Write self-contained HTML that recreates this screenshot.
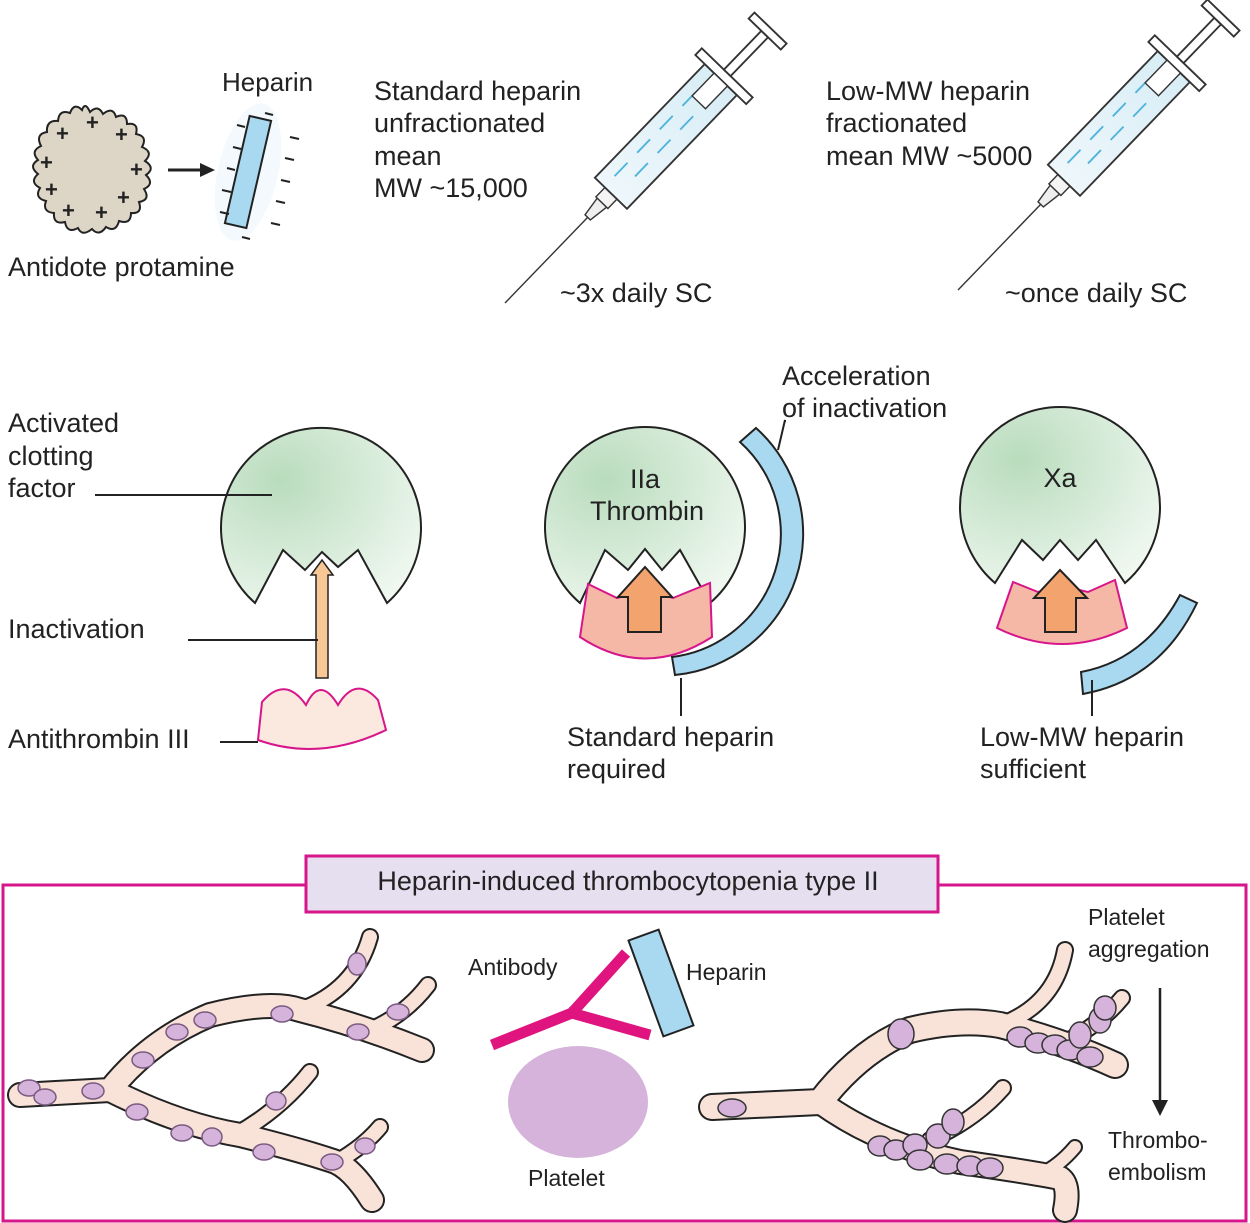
<!DOCTYPE html>
<html><head><meta charset="utf-8"><style>
html,body{margin:0;padding:0;background:#fff}
svg{display:block}
text{font-family:"Liberation Sans",sans-serif;fill:#222}
</style></head><body>
<svg width="1250" height="1223" viewBox="0 0 1250 1223" xmlns="http://www.w3.org/2000/svg">
<defs>
<radialGradient id="g1" cx="0.3" cy="0.3" r="0.9"><stop offset="0" stop-color="#b9dcbd"/><stop offset="1" stop-color="#f4faf4"/></radialGradient>
<linearGradient id="bar" x1="0" y1="0" x2="1" y2="0"><stop offset="0" stop-color="#eef7fb"/><stop offset="1" stop-color="#d8edf6"/></linearGradient>
<g id="syr">
 <line x1="0" y1="0" x2="130" y2="0" stroke="#333" stroke-width="1.5"/>
 <polygon points="128,-4 150,-7 150,7 128,4" fill="#eee" stroke="#333" stroke-width="1.5"/>
 <rect x="150" y="-9" width="14" height="18" fill="#f4f4f4" stroke="#333" stroke-width="1.5"/>
 <rect x="164" y="-24" width="170" height="48" fill="url(#bar)" stroke="#333" stroke-width="2"/>
 <g stroke="#4fb3dc" stroke-width="2">
  <line x1="180" y1="-10" x2="200" y2="-10"/><line x1="215" y1="-10" x2="235" y2="-10"/><line x1="250" y1="-10" x2="270" y2="-10"/><line x1="285" y1="-10" x2="305" y2="-10"/>
  <line x1="195" y1="6" x2="215" y2="6"/><line x1="230" y1="6" x2="250" y2="6"/><line x1="265" y1="6" x2="285" y2="6"/>
 </g>
 <rect x="334" y="-38" width="10" height="76" fill="#fff" stroke="#333" stroke-width="2"/>
 <rect x="300" y="-10" width="34" height="20" fill="#fff" stroke="#333" stroke-width="1.5"/>
 <rect x="344" y="-5" width="58" height="10" fill="#fff" stroke="#333" stroke-width="2"/>
 <rect x="402" y="-24" width="9" height="48" fill="#fff" stroke="#333" stroke-width="2"/>
</g>
</defs>

<!-- protamine -->
<path d="M90,112 Q98,104 103,114 Q113,106 116,117 Q127,112 127,124 Q139,122 136,134 Q148,136 142,147 Q154,152 145,161 Q156,168 146,175 Q155,184 144,189 Q151,200 139,202 Q143,214 131,213 Q131,225 119,221 Q116,233 106,227 Q99,237 92,229 Q82,237 78,228 Q67,234 65,222 Q53,225 54,213 Q42,212 46,201 Q34,198 40,188 Q29,182 38,174 Q28,166 38,160 Q30,151 41,146 Q35,134 47,132 Q46,120 58,121 Q59,109 70,113 Q74,102 82,110 Q85,101 90,112Z" fill="#ddd6c6" stroke="#222" stroke-width="2"/>
<g font-size="22" font-weight="bold">
<text x="86" y="130">+</text><text x="56" y="141">+</text><text x="115" y="142">+</text><text x="40" y="170">+</text><text x="130" y="177">+</text><text x="45" y="197">+</text><text x="117" y="205">+</text><text x="62" y="218">+</text><text x="95" y="220">+</text>
</g>
<line x1="168" y1="170" x2="203" y2="170" stroke="#222" stroke-width="3"/>
<polygon points="200,163 215,170 200,177" fill="#222"/>
<ellipse cx="248" cy="172" rx="30" ry="70" fill="#f3f9fd" transform="rotate(13 248 172)"/>
<rect x="237" y="117" width="22" height="110" fill="#a8d9f0" stroke="#222" stroke-width="2" transform="rotate(13 248 172)"/>
<g stroke="#222" stroke-width="2">
<line x1="265" y1="113" x2="273" y2="115"/><line x1="237" y1="125" x2="245" y2="127"/><line x1="290" y1="137" x2="299" y2="139"/><line x1="233" y1="147" x2="241" y2="149"/><line x1="285" y1="158" x2="294" y2="160"/><line x1="227" y1="168" x2="235" y2="170"/><line x1="281" y1="180" x2="290" y2="182"/><line x1="222" y1="190" x2="231" y2="192"/><line x1="276" y1="201" x2="285" y2="203"/><line x1="220" y1="212" x2="229" y2="214"/><line x1="271" y1="223" x2="280" y2="225"/><line x1="242" y1="237" x2="250" y2="239"/>
</g>
<text x="222" y="91" font-size="26">Heparin</text>
<text x="8" y="276" font-size="27">Antidote protamine</text>

<!-- syringes -->
<g font-size="27">
<text x="374" y="100">Standard heparin</text><text x="374" y="132">unfractionated</text><text x="374" y="165">mean</text><text x="374" y="197">MW ~15,000</text>
<text x="826" y="100">Low-MW heparin</text><text x="826" y="132">fractionated</text><text x="826" y="165">mean MW ~5000</text>
<text x="560" y="302">~3x daily SC</text><text x="1005" y="302">~once daily SC</text>
</g>
<use href="#syr" transform="translate(505,303) rotate(-46) scale(0.93)"/>
<use href="#syr" transform="translate(958,290) rotate(-46) scale(0.93)"/>

<!-- middle left -->
<g font-size="27">
<text x="8" y="432">Activated</text><text x="8" y="465">clotting</text><text x="8" y="497">factor</text>
<text x="8" y="638">Inactivation</text>
<text x="8" y="748">Antithrombin III</text>
</g>
<path d="M255,603 A100,100 0 1 1 387,603 L358,550 L338,567 L322,552 L305,570 L283,550 Z" fill="url(#g1)" stroke="#222" stroke-width="2"/>
<line x1="95" y1="495" x2="272" y2="495" stroke="#222" stroke-width="2"/>
<polygon points="316,678 328,678 328,575 333,575 322,560 311,575 316,575" fill="#f7c895" stroke="#222" stroke-width="1.5"/>
<line x1="188" y1="640" x2="318" y2="640" stroke="#222" stroke-width="2"/>
<path d="M262,702 Q285,675 306,705 Q320,675 338,705 Q356,675 378,700 L386,730 Q320,762 258,740 Z" fill="#fbe8df" stroke="#d6168a" stroke-width="2"/>
<line x1="220" y1="742" x2="258" y2="742" stroke="#222" stroke-width="2"/>

<!-- middle centre -->
<path d="M580,603 A100,100 0 1 1 710,603 L680,550 L662,570 L645,549 L628,570 L605,550 Z" fill="url(#g1)" stroke="#222" stroke-width="2"/>
<text x="645" y="488" font-size="27" text-anchor="middle">IIa</text>
<text x="647" y="520" font-size="27" text-anchor="middle">Thrombin</text>
<path d="M588,584 L617,598 L645,590 L673,598 L710,583 L712,637 Q645,680 580,637 Z" fill="#f6b8a6" stroke="#d6168a" stroke-width="2"/>
<polygon points="628,632 661,632 661,597 672,597 645,567 618,597 628,597" fill="#f3a46e" stroke="#222" stroke-width="2"/>
<path d="M756,428 A142,142 0 0 1 675,675 L672,657 A124,124 0 0 0 740,442 Z" fill="#a8d9f0" stroke="#222" stroke-width="2"/>
<polyline points="778,450 785,420 785,422" fill="none" stroke="#222" stroke-width="2"/>
<line x1="681" y1="678" x2="681" y2="716" stroke="#222" stroke-width="2"/>
<g font-size="27">
<text x="782" y="385">Acceleration</text><text x="782" y="417">of inactivation</text>
<text x="567" y="746">Standard heparin</text><text x="567" y="778">required</text>
<text x="980" y="746">Low-MW heparin</text><text x="980" y="778">sufficient</text>
</g>

<!-- middle right -->
<path d="M995,583 A100,100 0 1 1 1125,583 L1096,540 L1078,560 L1060,540 L1043,560 L1022,540 Z" fill="url(#g1)" stroke="#222" stroke-width="2"/>
<text x="1060" y="487" font-size="27" text-anchor="middle">Xa</text>
<path d="M1013,582 L1038,592 L1062,586 L1088,592 L1115,580 L1127,628 Q1062,660 997,628 Z" fill="#f6b8a6" stroke="#d6168a" stroke-width="2"/>
<polygon points="1045,632 1076,632 1076,598 1087,598 1060,570 1034,598 1045,598" fill="#f3a46e" stroke="#222" stroke-width="2"/>
<path d="M1081,672 Q1145,660 1180,595 L1197,603 Q1160,680 1083,694 Z" fill="#a8d9f0" stroke="#222" stroke-width="2"/>
<line x1="1092" y1="680" x2="1092" y2="716" stroke="#222" stroke-width="2"/>

<!-- bottom box -->
<rect x="3" y="885" width="1243" height="336" fill="none" stroke="#d6168a" stroke-width="3"/>
<rect x="306" y="856" width="632" height="56" fill="#e6dff0" stroke="#d6168a" stroke-width="3"/>
<text x="628" y="890" font-size="27" text-anchor="middle">Heparin-induced thrombocytopenia type II</text>

<!-- left vessels -->
<g fill="none" stroke-linecap="round" stroke-linejoin="round">
<g stroke="#222">
<path d="M20,1095 L110,1090 Q150,1040 210,1015 Q270,1000 300,1010 Q360,1025 422,1050" stroke-width="26"/>
<path d="M300,1010 Q355,990 370,937" stroke-width="18"/>
<path d="M370,1030 Q405,1015 428,985" stroke-width="18"/>
<path d="M110,1090 Q180,1125 240,1135 Q300,1150 330,1160 Q350,1165 372,1200" stroke-width="26"/>
<path d="M235,1135 Q280,1110 310,1072" stroke-width="18"/>
<path d="M340,1160 Q365,1145 380,1127" stroke-width="18"/>
</g>
<g stroke="#f9e3d8">
<path d="M20,1095 L110,1090 Q150,1040 210,1015 Q270,1000 300,1010 Q360,1025 422,1050" stroke-width="22"/>
<path d="M300,1010 Q355,990 370,937" stroke-width="14"/>
<path d="M370,1030 Q405,1015 428,985" stroke-width="14"/>
<path d="M110,1090 Q180,1125 240,1135 Q300,1150 330,1160 Q350,1165 372,1200" stroke-width="22"/>
<path d="M235,1135 Q280,1110 310,1072" stroke-width="14"/>
<path d="M340,1160 Q365,1145 380,1127" stroke-width="14"/>
</g>
</g>
<g fill="#d5b3db" stroke="#7a5a80" stroke-width="1.5">
<ellipse cx="29" cy="1088" rx="11" ry="8"/><ellipse cx="45" cy="1097" rx="11" ry="8"/><ellipse cx="93" cy="1091" rx="11" ry="8"/>
<ellipse cx="143" cy="1060" rx="11" ry="8"/><ellipse cx="177" cy="1032" rx="11" ry="8"/><ellipse cx="205" cy="1020" rx="11" ry="8"/>
<ellipse cx="282" cy="1014" rx="11" ry="8"/><ellipse cx="358" cy="1032" rx="11" ry="8"/><ellipse cx="398" cy="1012" rx="11" ry="8"/>
<ellipse cx="357" cy="964" rx="9" ry="11"/><ellipse cx="137" cy="1112" rx="11" ry="8"/><ellipse cx="182" cy="1133" rx="11" ry="8"/>
<ellipse cx="212" cy="1137" rx="10" ry="9"/><ellipse cx="264" cy="1152" rx="11" ry="8"/><ellipse cx="332" cy="1162" rx="11" ry="8"/>
<ellipse cx="276" cy="1101" rx="10" ry="9"/><ellipse cx="365" cy="1146" rx="10" ry="8"/>
</g>

<!-- antibody/heparin/platelet -->
<g stroke="#e0147f" stroke-width="11" stroke-linecap="butt">
<line x1="492" y1="1045" x2="572" y2="1013"/><line x1="570" y1="1015" x2="626" y2="953"/><line x1="568" y1="1012" x2="650" y2="1035"/>
</g>
<rect x="645" y="932" width="32" height="102" fill="#a8d9f0" stroke="#222" stroke-width="2" transform="rotate(-20 661 983)"/>
<ellipse cx="578" cy="1102" rx="70" ry="56" fill="#d5b3db"/>
<g font-size="23">
<text x="468" y="975">Antibody</text><text x="686" y="980">Heparin</text><text x="528" y="1186">Platelet</text>
<text x="1088" y="925">Platelet</text><text x="1088" y="957">aggregation</text>
<text x="1108" y="1148">Thrombo-</text><text x="1108" y="1180">embolism</text>
</g>
<line x1="1160" y1="988" x2="1160" y2="1100" stroke="#222" stroke-width="2.5"/>
<polygon points="1152,1100 1168,1100 1160,1116" fill="#222"/>

<!-- right vessels -->
<g fill="none" stroke-linecap="round" stroke-linejoin="round">
<g stroke="#222">
<path d="M712,1107 L820,1102 Q860,1050 910,1030 Q960,1018 1000,1025 Q1060,1040 1115,1065" stroke-width="28"/>
<path d="M1000,1025 Q1055,1005 1065,950" stroke-width="18"/>
<path d="M1060,1045 Q1100,1025 1122,998" stroke-width="18"/>
<path d="M820,1102 Q880,1145 960,1162 Q1030,1172 1060,1178 Q1070,1185 1065,1210" stroke-width="26"/>
<path d="M930,1140 Q975,1120 1003,1088" stroke-width="18"/>
<path d="M1040,1175 Q1060,1165 1075,1147" stroke-width="16"/>
</g>
<g stroke="#f9e3d8">
<path d="M712,1107 L820,1102 Q860,1050 910,1030 Q960,1018 1000,1025 Q1060,1040 1115,1065" stroke-width="24"/>
<path d="M1000,1025 Q1055,1005 1065,950" stroke-width="14"/>
<path d="M1060,1045 Q1100,1025 1122,998" stroke-width="14"/>
<path d="M820,1102 Q880,1145 960,1162 Q1030,1172 1060,1178 Q1070,1185 1065,1210" stroke-width="22"/>
<path d="M930,1140 Q975,1120 1003,1088" stroke-width="14"/>
<path d="M1040,1175 Q1060,1165 1075,1147" stroke-width="12"/>
</g>
</g>
<g fill="#d5b3db" stroke="#333" stroke-width="1.5">
<ellipse cx="732" cy="1108" rx="14" ry="9"/><ellipse cx="901" cy="1034" rx="13" ry="15"/>
<ellipse cx="1020" cy="1037" rx="13" ry="10"/><ellipse cx="1038" cy="1043" rx="13" ry="10"/><ellipse cx="1055" cy="1045" rx="13" ry="10"/><ellipse cx="1070" cy="1050" rx="13" ry="10"/><ellipse cx="1090" cy="1057" rx="13" ry="10"/><ellipse cx="1080" cy="1035" rx="11" ry="13"/><ellipse cx="1100" cy="1020" rx="11" ry="13"/><ellipse cx="1105" cy="1008" rx="11" ry="12"/>
<ellipse cx="880" cy="1146" rx="12" ry="10"/><ellipse cx="896" cy="1150" rx="12" ry="10"/><ellipse cx="915" cy="1145" rx="12" ry="11"/><ellipse cx="938" cy="1136" rx="12" ry="12"/><ellipse cx="953" cy="1122" rx="11" ry="13"/><ellipse cx="920" cy="1160" rx="13" ry="10"/><ellipse cx="947" cy="1164" rx="13" ry="10"/><ellipse cx="970" cy="1166" rx="13" ry="10"/><ellipse cx="990" cy="1168" rx="13" ry="10"/>
</g>
</svg>
</body></html>
